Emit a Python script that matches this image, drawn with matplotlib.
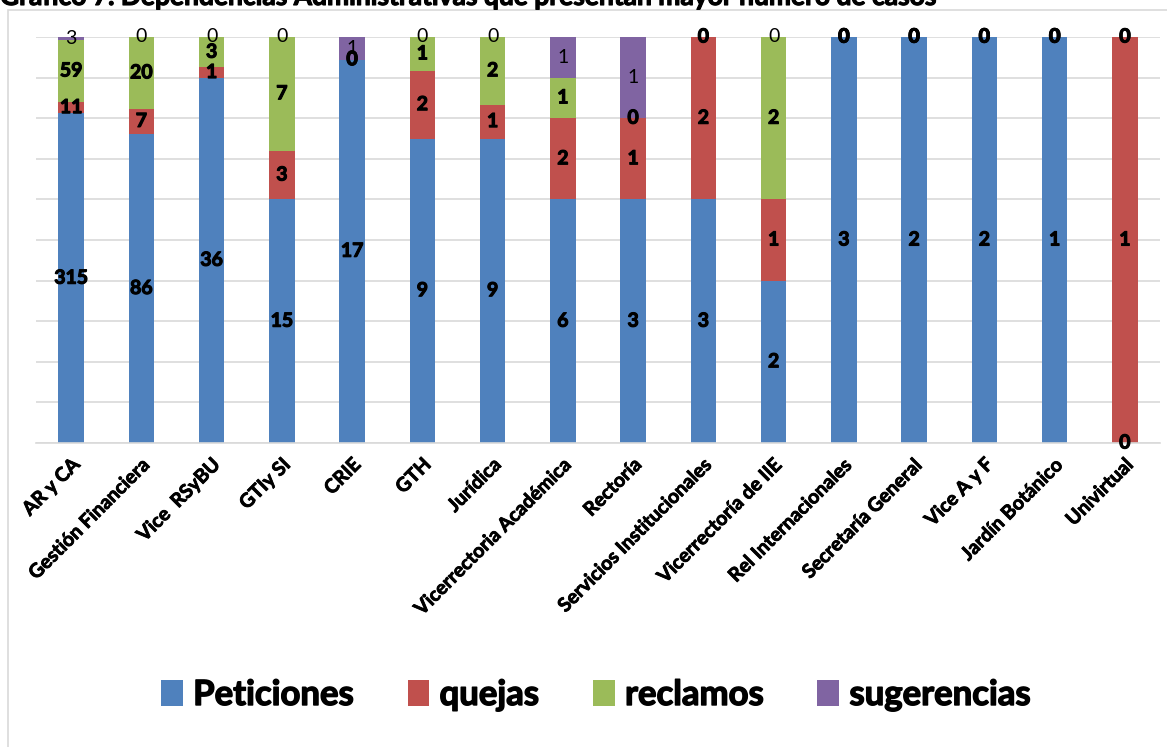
import matplotlib.pyplot as plt
import numpy as np
from matplotlib.patches import Rectangle
import matplotlib.patheffects as pe

plt.rcParams['font.family'] = ['Lato', 'DejaVu Sans']

categorias = ["AR y CA", "Gestión Financiera", "Vice  RSyBU", "GTIy SI", "CRIE", "GTH",
              "Jurídica", "Vicerrectoria Académica", "Rectoría", "Servicios Institucionales",
              "Vicerrectoría de IIE", "Rel Internacionales", "Secretaría General",
              "Vice A y F", "Jardín Botánico", "Univirtual"]
peticiones = [315, 86, 36, 15, 17, 9, 9, 6, 3, 3, 2, 3, 2, 2, 1, 0]
quejas = [11, 7, 1, 3, 0, 2, 1, 2, 1, 2, 1, 0, 0, 0, 0, 1]
reclamos = [59, 20, 3, 7, 0, 1, 2, 1, 0, 0, 2, 0, 0, 0, 0, 0]
sugerencias = [3, 0, 0, 0, 1, 0, 0, 1, 1, 0, 0, 0, 0, 0, 0, 0]

series = [("Peticiones", peticiones, "#4F81BD", "bold"),
          ("quejas", quejas, "#C0504D", "bold"),
          ("reclamos", reclamos, "#9BBB59", "bold"),
          ("sugerencias", sugerencias, "#8064A2", "normal")]

titulo = "Gráfico 7. Dependencias Administrativas que presentan mayor número de casos"

W, H = 1167, 747
fig = plt.figure(figsize=(W / 100, H / 100), dpi=100)

# outer chart frame
fig.patches.append(Rectangle((7.5 / W, -0.1), 1.2, 1 - 10 / H + 0.1,
                             transform=fig.transFigure, fill=False,
                             edgecolor="#d9d9d9", linewidth=1.2, zorder=0))

ax = fig.add_axes([36 / W, (H - 443) / H, 1124 / W, 406 / H])

x = np.arange(len(categorias))
totales = np.array(peticiones) + np.array(quejas) + np.array(reclamos) + np.array(sugerencias)
base = np.zeros(len(categorias))

heavy = [pe.withStroke(linewidth=0.8, foreground="black")]

etiquetas = []
for nombre, vals, color, peso in series:
    vals = np.array(vals, dtype=float)
    pct = vals / totales * 100
    ax.bar(x, pct, bottom=base, width=0.36, color=color, label=nombre, zorder=2)
    for xi, b, p, v in zip(x, base, pct, vals):
        etiquetas.append((xi, b + p / 2, int(v), peso))
    base = base + pct

for xi, yi, v, peso in etiquetas:
    ax.text(xi, yi, str(v), ha="center", va="center", fontsize=14,
            fontweight=peso, color="black", zorder=5,
            path_effects=heavy if peso == "bold" else None)

ax.set_xlim(-0.5, len(categorias) - 0.5)
ax.set_ylim(0, 100)
ax.set_yticks(np.arange(0, 101, 10))
ax.yaxis.grid(True, color="#d9d9d9", linewidth=1.2, zorder=0)
ax.set_axisbelow(True)
ax.tick_params(axis="y", left=False, labelleft=False)
ax.tick_params(axis="x", length=0, pad=9)
for s in ["top", "right", "left"]:
    ax.spines[s].set_visible(False)
ax.spines["bottom"].set_color("#d9d9d9")
ax.spines["bottom"].set_linewidth(1.2)

ax.set_xticks(x)
ax.set_xticklabels(categorias, rotation=45, ha="right", va="top",
                   rotation_mode="anchor", fontsize=14, fontweight="bold")
for t in ax.get_xticklabels():
    t.set_path_effects([pe.withStroke(linewidth=0.6, foreground="black")])

t = fig.text(0.0, 1 - 5 / H, titulo, ha="left", va="baseline",
             fontsize=19, fontweight="bold", color="black")
t.set_path_effects(heavy)

leg = fig.legend(loc="center", bbox_to_anchor=(596 / W, 1 - 695 / H), ncol=4,
                 frameon=False, handlelength=0.62, handleheight=0.75,
                 handletextpad=0.3, columnspacing=1.55,
                 prop={"weight": "bold", "size": 25})
for txt in leg.get_texts():
    txt.set_path_effects([pe.withStroke(linewidth=1.0, foreground="black")])

fig.savefig("out.png", dpi=100)
